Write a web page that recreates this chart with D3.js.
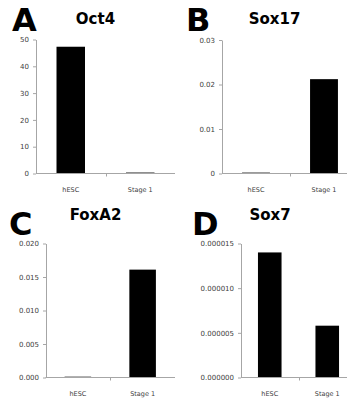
<!DOCTYPE html>
<html>
<head>
<meta charset="utf-8">
<script src="https://cdn.jsdelivr.net/npm/d3@7"></script>
<style>
  body { margin: 0; background: #fff; }
  .tick text, .cat { font-family: "DejaVu Sans", sans-serif; fill: #404040; }
  .title { font-family: "DejaVu Sans", sans-serif; font-weight: bold; font-size: 15px; }
  .letter { font-family: "DejaVu Sans", sans-serif; font-weight: bold; font-size: 32px; }
</style>
</head>
<body>
<script>
// data
var categories = ["hESC", "Stage 1"];
var genes = ["Oct4", "Sox17", "FoxA2", "Sox7"];
var letters = ["A", "B", "C", "D"];

var oct4 = [47.3, 0.35];
var sox17 = [0.0002, 0.0212];
var foxa2 = [0.00012, 0.0161];
var sox7 = [0.0000140, 0.0000058];
var values = [oct4, sox17, foxa2, sox7];

var yMax = [50, 0.03, 0.02, 0.000015];
var yTicks = [
    [0, 10, 20, 30, 40, 50],
    [0, 0.01, 0.02, 0.03],
    [0, 0.005, 0.010, 0.015, 0.020],
    [0, 0.000005, 0.000010, 0.000015]
];
var yFormats = ["d", "~g", ".3f", ".6f"];

// panel layout (pixels)
var panels = [
    { x0: 36, x1: 175, top: 39.5, bottom: 173.5, tx: 95.5, ty: 24, lx: 12, ly: 31 },
    { x0: 222, x1: 358, top: 40, bottom: 173.5, tx: 274.5, ty: 24, lx: 186, ly: 31 },
    { x0: 45.5, x1: 175, top: 243.5, bottom: 377.5, tx: 95.5, ty: 220, lx: 9, ly: 235 },
    { x0: 241, x1: 356, top: 243.5, bottom: 377.5, tx: 270, ty: 220, lx: 192, ly: 235 }
];

var svg = d3.select("body").append("svg")
    .attr("width", 347)
    .attr("height", 400);

var axisColor = "#a6a6a6";

panels.forEach(function(p, i) {
    var g = svg.append("g");

    var x = d3.scaleBand()
        .domain(categories)
        .range([p.x0, p.x1])
        .paddingInner(0.59)
        .paddingOuter(0.295);

    var y = d3.scaleLinear()
        .domain([0, yMax[i]])
        .range([p.bottom, p.top]);

    // y axis
    var yAxis = d3.axisLeft(y)
        .tickValues(yTicks[i])
        .tickSizeInner(3)
        .tickSizeOuter(0)
        .tickPadding(4)
        .tickFormat(d3.format(yFormats[i]));

    var ya = g.append("g")
        .attr("transform", "translate(" + Math.round(p.x0) + ",0)")
        .call(yAxis);
    ya.select(".domain").attr("stroke", axisColor);
    ya.selectAll(".tick line").attr("stroke", axisColor);
    ya.selectAll(".tick text").style("font-size", "7px");

    // bars
    g.selectAll("rect")
        .data(values[i])
        .enter()
        .append("rect")
        .attr("x", function(d, j) { return x(categories[j]); })
        .attr("width", x.bandwidth())
        .attr("y", function(d) { return y(d); })
        .attr("height", function(d) { return Math.max(1, p.bottom - y(d)); })
        .attr("fill", "#000");

    // x axis line + boundary ticks
    g.append("line")
        .attr("x1", p.x0).attr("x2", p.x1)
        .attr("y1", p.bottom).attr("y2", p.bottom)
        .attr("stroke", axisColor);

    var step = x.step();
    var bounds = categories.map(function(c) { return x(c) - step * 0.295; }).slice(1);
    g.selectAll(".xtick")
        .data(bounds)
        .enter()
        .append("line")
        .attr("class", "xtick")
        .attr("x1", function(d) { return Math.round(d) + 0.5; })
        .attr("x2", function(d) { return Math.round(d) + 0.5; })
        .attr("y1", p.bottom)
        .attr("y2", p.bottom + 3)
        .attr("stroke", axisColor);

    g.selectAll(".cat")
        .data(categories)
        .enter()
        .append("text")
        .attr("class", "cat")
        .attr("x", function(c) { return x(c) + x.bandwidth() / 2; })
        .attr("y", p.bottom + 18)
        .attr("text-anchor", "middle")
        .style("font-size", "6.5px")
        .text(function(c) { return c; });

    // title and panel letter
    g.append("text")
        .attr("class", "title")
        .attr("x", p.tx)
        .attr("y", p.ty)
        .attr("text-anchor", "middle")
        .text(genes[i]);

    g.append("text")
        .attr("class", "letter")
        .attr("x", p.lx)
        .attr("y", p.ly)
        .text(letters[i]);
});
</script>
</body>
</html>
